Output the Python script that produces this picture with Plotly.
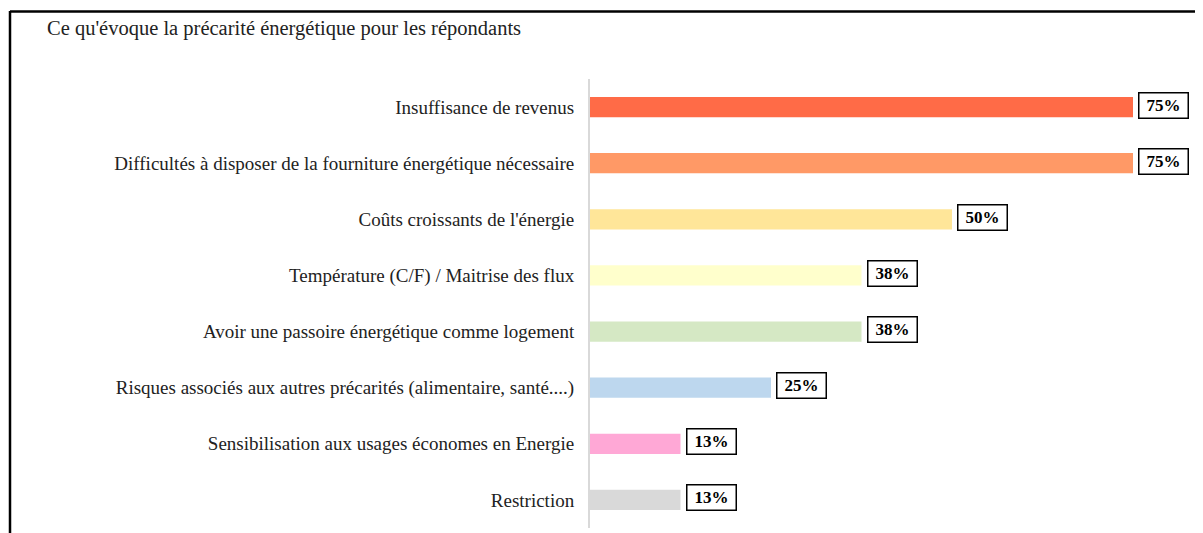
import plotly.graph_objects as go
import math

categories = [
    "Insuffisance de revenus",
    "Difficultés à disposer de la fourniture énergétique nécessaire",
    "Coûts croissants de l'énergie",
    "Température (C/F) / Maitrise des flux",
    "Avoir une passoire énergétique comme logement",
    "Risques associés aux autres précarités (alimentaire, santé....)",
    "Sensibilisation aux usages économes en Energie",
    "Restriction",
]
values = [75, 75, 50, 37.5, 37.5, 25, 12.5, 12.5]
colors = ["#FF6B47", "#FF9966", "#FFE699", "#FFFFCC",
          "#D5E8C4", "#BDD7EE", "#FFA8D6", "#D9D9D9"]
title = "Ce qu'évoque la précarité énergétique pour les répondants"

# page has an 8px body margin, so the figure is shifted by 8px
OFF = 8
W, H = 1203 - OFF, 533 - OFF
L, R, T, B = 590 - OFF, 8, 79 - OFF, 5

fig = go.Figure(go.Bar(
    y=categories, x=values, orientation="h",
    marker=dict(color=colors, line=dict(width=0)),
    width=0.36, hoverinfo="skip",
))

# boxed value labels
for c, v in zip(categories, values):
    fig.add_annotation(
        x=v, y=c, xref="x", yref="y", xanchor="left", yanchor="middle",
        xshift=5, yshift=2, showarrow=False,
        text="<b>%d%%</b>" % math.floor(v + 0.5),
        font=dict(family="Liberation Serif", size=17, color="black"),
        width=44, height=20, align="center",
        bordercolor="black", borderwidth=1.5, borderpad=2, bgcolor="white",
    )

pw, ph = W - L - R, H - T - B
def px(p):
    return (p - OFF - L) / pw
def py(r):
    return (H - B - (r - OFF)) / ph

fig.add_annotation(
    x=px(45), y=py(28), xref="paper", yref="paper",
    xanchor="left", yanchor="middle", showarrow=False, text=title,
    font=dict(family="Liberation Serif", size=20.5, color="#222"),
)

# frame lines (left and top)
fig.add_shape(type="line", xref="paper", yref="paper",
              x0=px(10), x1=px(10), y0=py(11), y1=py(540),
              line=dict(color="black", width=2.5))
fig.add_shape(type="line", xref="paper", yref="paper",
              x0=px(10), x1=px(1210), y0=py(11.5), y1=py(11.5),
              line=dict(color="black", width=2.5))

fig.update_xaxes(range=[0, pw / 7.24], visible=False, fixedrange=True)
fig.update_yaxes(
    autorange="reversed", showline=True, linecolor="#D9D9D9", linewidth=2,
    showgrid=False, ticks="", ticklabelstandoff=10,
    tickfont=dict(family="Liberation Serif", size=19, color="#222"),
)

fig.update_layout(
    width=W, height=H,
    margin=dict(l=L, r=R, t=T, b=B),
    plot_bgcolor="white", paper_bgcolor="white",
    showlegend=False,
)

fig.write_html("out.html")
